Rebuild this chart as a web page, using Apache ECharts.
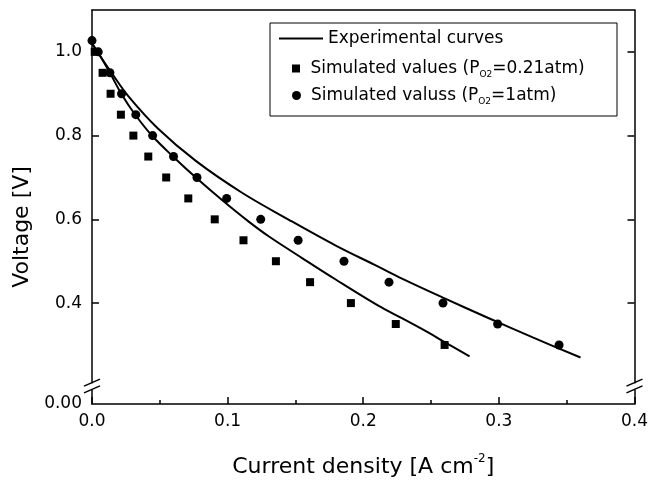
<!DOCTYPE html>
<html>
<head>
<meta charset="utf-8">
<script src="https://cdn.jsdelivr.net/npm/echarts@6/dist/echarts.min.js"></script>
<style>html,body{margin:0;padding:0;background:#fff}#c{width:651px;height:483px}</style>
</head>
<body>
<div id="c"></div>
<script>
// ---- data ----
const xTickValues = [0, 0.1, 0.2, 0.3, 0.4];
const yTickValues = [0, 0.4, 0.6, 0.8, 1.0];
const yBreak = { start: 0.035, end: 0.21 };

const upperCurve = [[0,1.02],[0.006,0.99],[0.0144,0.95],[0.0266,0.895],[0.0486,0.817],[0.0768,0.739],[0.1109,0.663],[0.1452,0.599],[0.1794,0.538],[0.2111,0.487],[0.2282,0.459],[0.2588,0.413],[0.2918,0.365],[0.325,0.318],[0.3602,0.27]];
const lowerCurve = [[0,1.02],[0.0046,0.998],[0.0132,0.95],[0.0218,0.899],[0.0323,0.848],[0.0445,0.799],[0.0601,0.749],[0.0772,0.698],[0.0963,0.645],[0.1158,0.594],[0.1305,0.559],[0.1552,0.507],[0.1794,0.457],[0.2111,0.394],[0.2285,0.364],[0.2478,0.330],[0.26,0.307],[0.2784,0.273]];
const simAir = [[0.002,1.0],[0.0078,0.95],[0.0137,0.90],[0.0213,0.85],[0.0305,0.80],[0.0415,0.75],[0.0547,0.70],[0.0710,0.65],[0.0905,0.60],[0.1117,0.55],[0.1356,0.50],[0.1608,0.45],[0.1909,0.40],[0.2240,0.35],[0.2600,0.30]];
const simO2 = [[0.0,1.027],[0.0046,1.0],[0.0132,0.95],[0.0218,0.90],[0.0323,0.85],[0.0447,0.80],[0.0601,0.75],[0.0774,0.70],[0.0993,0.65],[0.1244,0.60],[0.1520,0.55],[0.1858,0.50],[0.2190,0.45],[0.2588,0.40],[0.2991,0.35],[0.3444,0.30]];

const EXP_NAME = 'Experimental curves';
const AIR_NAME = 'Simulated values (PO2=0.21atm)';
const O2_NAME = 'Simulated valuss (PO2=1atm)';
const legendRich = {
  [EXP_NAME]: '{n|Experimental curves}',
  [AIR_NAME]: '{n|Simulated values (P}{s|O2}{n|=0.21atm)}',
  [O2_NAME]: '{n|Simulated valuss (P}{s|O2}{n|=1atm)}'
};

// ---- chart ----
const FONT = 'DejaVu Sans';
const chart = echarts.init(document.getElementById('c'), null, { renderer: 'canvas' });

const legendText = {
  color: '#000', fontFamily: FONT, fontSize: 17,
  rich: {
    n: { color: '#000', fontFamily: FONT, fontSize: 17, lineHeight: 22 },
    s: { color: '#000', fontFamily: FONT, fontSize: 9, lineHeight: 6, verticalAlign: 'bottom' }
  }
};
const legendBase = { orient: 'vertical', padding: 0, selectedMode: false, textStyle: legendText, formatter: n => legendRich[n] };

function yAxis(pos, labels) {
  return {
    type: 'value', position: pos, min: 0, max: 1.1,
    breaks: [{ start: yBreak.start, end: yBreak.end, gap: '1.7%' }],
    breakArea: { show: false },
    axisLine: { show: true, onZero: false, lineStyle: { color: '#000', width: 1.5 } },
    axisTick: { show: true, inside: true, length: 7, customValues: yTickValues.slice(1), lineStyle: { color: '#000', width: 1.5 } },
    axisLabel: {
      show: labels, customValues: yTickValues, margin: 10, color: '#000', fontFamily: FONT, fontSize: 17,
      formatter: v => (Math.abs(v) < 1e-9 ? '0.00' : v.toFixed(1))
    },
    splitLine: { show: false },
    name: labels ? 'Voltage [V]' : '',
    nameLocation: 'middle', nameGap: 58,
    nameTextStyle: { color: '#000', fontFamily: FONT, fontSize: 22, padding: [0, 40, 0, 0] }
  };
}

const option = {
  backgroundColor: '#fff',
  animation: false,
  grid: { left: 92, right: 13, top: 10, bottom: 70, containLabel: false },
  xAxis: [{
    type: 'value', position: 'bottom', min: 0, max: 0.4, interval: 0.1,
    axisLine: { show: true, onZero: false, lineStyle: { color: '#000', width: 1.5 } },
    axisTick: { show: true, inside: true, length: 7, lineStyle: { color: '#000', width: 1.5 } },
    minorTick: { show: true, splitNumber: 2, length: 4, lineStyle: { color: '#000', width: 1.5 } },
    axisLabel: { margin: 9, color: '#000', fontFamily: FONT, fontSize: 17, customValues: xTickValues, formatter: v => v.toFixed(1) },
    splitLine: { show: false }, minorSplitLine: { show: false },
    name: '{n|Current density [A cm}{p|-2}{n|]}',
    nameLocation: 'middle', nameGap: 49,
    nameTextStyle: {
      color: '#000', fontFamily: FONT, fontSize: 22,
      rich: {
        n: { color: '#000', fontFamily: FONT, fontSize: 22, lineHeight: 28 },
        p: { color: '#000', fontFamily: FONT, fontSize: 12, lineHeight: 4, verticalAlign: 'top' }
      }
    }
  }, {
    type: 'value', position: 'top', min: 0, max: 0.4,
    axisLine: { show: true, onZero: false, lineStyle: { color: '#000', width: 1.5 } },
    axisTick: { show: false }, axisLabel: { show: false }, splitLine: { show: false }
  }],
  yAxis: [yAxis('left', true), yAxis('right', false)],
  legend: [
    Object.assign({}, legendBase, { data: [{ name: EXP_NAME, icon: 'rect' }], left: 279, top: 30, itemWidth: 44, itemHeight: 2 }),
    Object.assign({}, legendBase, { data: [{ name: AIR_NAME, icon: 'path://M0 0H10V10H0Z' }], left: 292, top: 60, itemWidth: 19, itemHeight: 8, symbolKeepAspect: true }),
    Object.assign({}, legendBase, { data: [{ name: O2_NAME, icon: 'circle' }], left: 292, top: 87, itemWidth: 19, itemHeight: 9 })
  ],
  series: [
    { name: EXP_NAME, type: 'line', data: upperCurve, smooth: 0.35, symbol: 'none', lineStyle: { color: '#000', width: 2 }, itemStyle: { color: '#000' }, z: 3 },
    { name: EXP_NAME, type: 'line', data: lowerCurve, smooth: 0.35, symbol: 'none', lineStyle: { color: '#000', width: 2 }, itemStyle: { color: '#000' }, z: 3 },
    { name: AIR_NAME, type: 'scatter', data: simAir, symbol: 'rect', symbolSize: 8, itemStyle: { color: '#000', opacity: 1 }, clip: false, z: 4 },
    { name: O2_NAME, type: 'scatter', data: simO2, symbol: 'circle', symbolSize: 9, itemStyle: { color: '#000', opacity: 1 }, clip: false, z: 4 }
  ]
};
chart.setOption(option);

// decorations: legend frame and axis-break marks, placed from the axis scales
const xl = chart.convertToPixel({ xAxisIndex: 0 }, 0);
const xr = chart.convertToPixel({ xAxisIndex: 0 }, 0.4);
const yTop = chart.convertToPixel({ yAxisIndex: 0 }, yBreak.end);
const yBot = chart.convertToPixel({ yAxisIndex: 0 }, yBreak.start);
function breakMarks(x) {
  return [
    { type: 'rect', z: 100, shape: { x: x - 3, y: yTop + 1, width: 6, height: Math.max(1, yBot - yTop - 2) }, style: { fill: '#fff' } },
    { type: 'line', z: 101, shape: { x1: x - 8, y1: yTop + 3.5, x2: x + 8, y2: yTop - 3.5 }, style: { stroke: '#000', lineWidth: 1.5 } },
    { type: 'line', z: 101, shape: { x1: x - 8, y1: yBot + 3.5, x2: x + 8, y2: yBot - 3.5 }, style: { stroke: '#000', lineWidth: 1.5 } }
  ];
}
chart.setOption({
  graphic: [
    { type: 'rect', z: 50, shape: { x: 270, y: 23, width: 347, height: 93 }, style: { fill: 'none', stroke: '#000', lineWidth: 1 } }
  ].concat(breakMarks(xl), breakMarks(xr))
});
</script>
</body>
</html>
